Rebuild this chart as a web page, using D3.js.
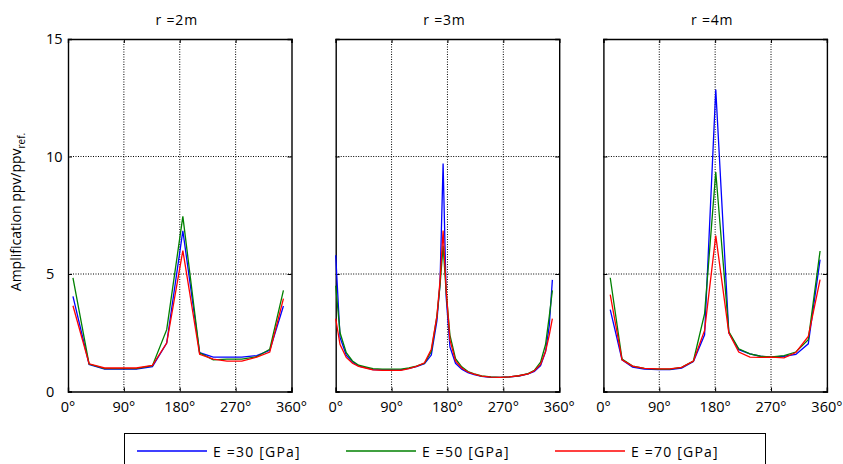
<!DOCTYPE html>
<html><head><meta charset="utf-8">
<script src="https://cdn.jsdelivr.net/npm/d3@7"></script>
<style>
html,body{margin:0;padding:0;background:#fff;}
svg{display:block;font-family:"Open Sans","Noto Sans",sans-serif;}
</style></head>
<body><svg id="chart" width="843" height="464"></svg>
<script>
// ---- Data ----
const panelTitles = ["r =2m", "r =3m", "r =4m"];
const seriesNames = ["E =30 [GPa]", "E =50 [GPa]", "E =70 [GPa]"];
const seriesColors = ["#0000ff", "#008000", "#ff0000"];
const xTickValues = [0, 90, 180, 270, 360];
const xTickLabels = ["0°", "90°", "180°", "270°", "360°"];
const yTickValues = [0, 5, 10, 15];

// r = 2m
const angles2m = [8, 34, 59, 83, 110, 136, 159, 185, 212, 234, 256, 280, 304, 325, 347];
const e30_2m = [4.05, 1.15, 0.95, 0.95, 0.95, 1.06, 2.06, 6.84, 1.65, 1.46, 1.46, 1.46, 1.53, 1.75, 3.64];
const e50_2m = [4.84, 1.17, 0.97, 0.97, 0.97, 1.10, 2.63, 7.45, 1.65, 1.35, 1.38, 1.38, 1.48, 1.80, 4.30];
const e70_2m = [3.65, 1.18, 1.00, 1.00, 1.00, 1.11, 2.06, 6.00, 1.58, 1.38, 1.29, 1.29, 1.46, 1.68, 3.95];

// r = 3m
const angles3m = [0, 7, 17, 27, 37, 48, 60, 75, 90, 105, 118, 130, 143, 154, 163, 168, 173, 178, 184, 193, 203, 213, 223, 235, 250, 265, 280, 295, 310, 320, 330, 338, 344, 349];
const e30_3m = [5.8, 2.3, 1.55, 1.25, 1.08, 1.02, 0.93, 0.92, 0.92, 0.92, 0.98, 1.06, 1.18, 1.55, 3.0, 4.6, 9.7, 4.0, 1.9, 1.2, 0.95, 0.8, 0.72, 0.64, 0.6, 0.6, 0.62, 0.66, 0.75, 0.85, 1.1, 1.7, 2.8, 4.75];
const e50_3m = [4.5, 2.5, 1.65, 1.3, 1.12, 1.05, 0.97, 0.95, 0.95, 0.95, 1.0, 1.08, 1.2, 1.7, 3.2, 4.5, 6.2, 4.2, 2.4, 1.4, 1.05, 0.85, 0.75, 0.66, 0.62, 0.6, 0.62, 0.67, 0.76, 0.9, 1.25, 2.0, 3.2, 4.3];
const e70_3m = [3.1, 2.0, 1.45, 1.2, 1.07, 1.0, 0.92, 0.9, 0.9, 0.9, 0.97, 1.07, 1.22, 1.8, 3.2, 4.7, 6.85, 4.3, 2.2, 1.3, 1.0, 0.83, 0.74, 0.65, 0.61, 0.6, 0.62, 0.67, 0.75, 0.88, 1.15, 1.7, 2.4, 3.1];

// r = 4m
const angles4m = [11, 30, 47, 66, 88, 107, 126, 145, 163, 181, 202, 218, 236, 253, 271, 291, 310, 330, 349];
const e30_4m = [3.48, 1.35, 1.04, 0.95, 0.93, 0.93, 1.00, 1.28, 2.41, 12.85, 2.50, 1.78, 1.60, 1.50, 1.46, 1.50, 1.58, 2.03, 5.61];
const e50_4m = [4.84, 1.38, 1.08, 0.98, 0.95, 0.95, 1.03, 1.30, 3.31, 9.34, 2.55, 1.82, 1.60, 1.50, 1.47, 1.53, 1.68, 2.20, 5.98];
const e70_4m = [4.12, 1.35, 1.08, 0.98, 0.96, 0.96, 1.03, 1.30, 2.60, 6.63, 2.50, 1.68, 1.46, 1.45, 1.46, 1.43, 1.66, 2.34, 4.76];

const panels = [
  {title: panelTitles[0], angles: angles2m, series: [e30_2m, e50_2m, e70_2m]},
  {title: panelTitles[1], angles: angles3m, series: [e30_3m, e50_3m, e70_3m]},
  {title: panelTitles[2], angles: angles4m, series: [e30_4m, e50_4m, e70_4m]}
];

// ---- Layout ----
const svg = d3.select("#chart");
const panelLeft0 = 68, panelStep = 267.7, panelW = 223.5;
const plotTop = 39, plotBottom = 391.5;
const y = d3.scaleLinear().domain([0, 15]).range([plotBottom, plotTop]);

panels.forEach((p, i) => {
  const left = panelLeft0 + i * panelStep;
  const x = d3.scaleLinear().domain([0, 360]).range([left, left + panelW]);
  const g = svg.append("g");

  // grid
  g.selectAll(".gx").data([90, 180, 270]).enter().append("line")
    .attr("x1", d => x(d)).attr("x2", d => x(d)).attr("y1", plotTop).attr("y2", plotBottom)
    .attr("stroke", "#000").attr("stroke-width", 1).attr("stroke-dasharray", "1,1.5");
  g.selectAll(".gy").data([5, 10]).enter().append("line")
    .attr("x1", left).attr("x2", left + panelW).attr("y1", d => y(d)).attr("y2", d => y(d))
    .attr("stroke", "#000").attr("stroke-width", 1).attr("stroke-dasharray", "1,1.5");

  // axes (ticks inward)
  const xb = d3.axisBottom(x).tickValues(xTickValues).tickSize(-4).tickFormat("");
  const xt = d3.axisTop(x).tickValues(xTickValues).tickSize(-4).tickFormat("");
  const yla = d3.axisLeft(y).tickValues(yTickValues).tickSize(-4).tickFormat("");
  const yra = d3.axisRight(y).tickValues(yTickValues).tickSize(-4).tickFormat("");
  [[xb, `translate(0,${plotBottom})`], [xt, `translate(0,${plotTop})`], [yla, `translate(${left},0)`], [yra, `translate(${left + panelW},0)`]].forEach(([ax, tr]) => {
    const a = g.append("g").attr("transform", tr).call(ax);
    a.select(".domain").attr("stroke", "#000").attr("stroke-width", 1.4);
    a.selectAll(".tick line").attr("stroke", "#000").attr("stroke-width", 1);
  });

  // x tick labels
  g.selectAll(".xl").data(xTickValues).enter().append("text")
    .attr("x", d => x(d)).attr("y", 412).attr("text-anchor", "middle")
    .attr("font-size", 14.5).attr("fill", "#000")
    .text((d, k) => xTickLabels[k]);

  // title
  g.append("text").attr("x", left + panelW / 2 - 3).attr("y", 25).attr("text-anchor", "middle")
    .attr("font-size", 14).attr("letter-spacing", 0.8).attr("fill", "#000").text(p.title);

  // series
  p.series.forEach((vals, s) => {
    const line = d3.line().x((d, k) => x(p.angles[k])).y(d => y(d));
    g.append("path").datum(vals).attr("d", line)
      .attr("fill", "none").attr("stroke", seriesColors[s]).attr("stroke-width", 1.3)
      .attr("stroke-linejoin", "miter");
  });

  // y tick labels only on first panel
  if (i === 0) {
    g.selectAll(".yl").data(yTickValues).enter().append("text")
      .attr("x", 46).attr("y", d => y(d) + 5).attr("text-anchor", "start")
      .attr("font-size", 14.5).attr("fill", "#000").text(d => d);
  }
});

// y label
const ylab = svg.append("text").attr("transform", "translate(21,212) rotate(-90)")
  .attr("text-anchor", "middle").attr("font-size", 14).attr("fill", "#000");
ylab.append("tspan").text("Amplification ppv/ppv");
ylab.append("tspan").attr("font-size", 10).attr("dy", 4).text("ref.");

// legend
const lg = svg.append("g");
lg.append("rect").attr("x", 124.5).attr("y", 433.5).attr("width", 641).attr("height", 40)
  .attr("fill", "#fff").attr("stroke", "#000").attr("stroke-width", 1);
const legendX = [137, 346, 555];
seriesNames.forEach((name, s) => {
  lg.append("line").attr("x1", legendX[s]).attr("x2", legendX[s] + 70).attr("y1", 451).attr("y2", 451)
    .attr("stroke", seriesColors[s]).attr("stroke-width", 1.3);
  lg.append("text").attr("x", legendX[s] + 76).attr("y", 456.5).attr("font-size", 14)
    .attr("letter-spacing", 1.2).attr("fill", "#000").text(name);
});
</script></body></html>
